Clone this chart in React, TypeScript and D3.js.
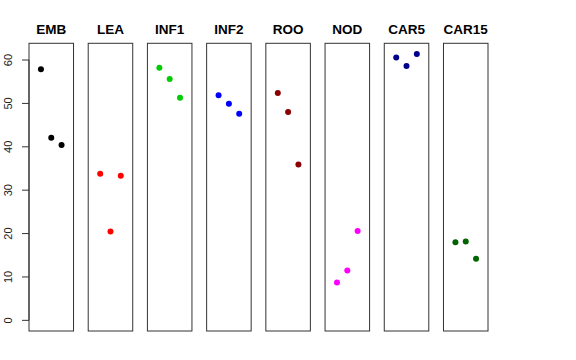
import * as d3 from "d3";

const categories = ["EMB", "LEA", "INF1", "INF2", "ROO", "NOD", "CAR5", "CAR15"];
const colors = ["#000000", "#FF0000", "#00CD00", "#0000FF", "#8B0000", "#FF00FF", "#00008B", "#006400"];
const rep1 = [57.9, 33.8, 58.2, 51.9, 52.4, 8.7, 60.6, 18.0];
const rep2 = [42.1, 20.5, 55.6, 49.9, 48.0, 11.5, 58.6, 18.2];
const rep3 = [40.4, 33.3, 51.3, 47.6, 35.9, 20.6, 61.4, 14.2];
const yTicks = [0, 10, 20, 30, 40, 50, 60];

export default function App() {
  const width = 576;
  const height = 360;
  const left = 29;
  const right = 488;
  const top = 43.3;
  const bottom = 331;

  const xBand = d3.scaleBand().domain(categories).range([left, right]).paddingInner(0.248).paddingOuter(0);

  const yMax = 61.4;
  const yScale = d3
    .scaleLinear()
    .domain([-0.04 * yMax, yMax * 1.04])
    .range([bottom, top]);

  const inner = d3.scaleLinear().domain([-0.16, 4.16]).range([0, xBand.bandwidth()]);

  const reps = [rep1, rep2, rep3];

  return (
    <svg width={width} height={height} style={{ position: "absolute", left: 0, top: 0 }}>
      <rect width={width} height={height} fill="white" />
      {categories.map((c, i) => {
        const x0 = xBand(c)!;
        return (
          <g key={c}>
            <text
              x={x0 + xBand.bandwidth() / 2}
              y={34}
              textAnchor="middle"
              fontFamily="Liberation Sans, Arial, sans-serif"
              fontWeight="bold"
              fontSize={13.5}
            >
              {c}
            </text>
            {reps.map((r, j) => (
              <circle key={j} cx={x0 + inner(j + 1)} cy={yScale(r[i])} r={3} fill={colors[i]} />
            ))}
            <rect
              x={x0}
              y={top}
              width={xBand.bandwidth()}
              height={bottom - top}
              fill="none"
              stroke="#333"
              strokeWidth={1}
            />
          </g>
        );
      })}

      {/* Y axis */}
      <line x1={left} x2={left} y1={yScale(0)} y2={yScale(60)} stroke="#333" />
      {yTicks.map((t) => (
        <g key={t} transform={`translate(${left}, ${yScale(t)})`}>
          <line x2={-7} stroke="#333" />
          <text
            transform="translate(-17, 0) rotate(-90)"
            textAnchor="middle"
            fontFamily="Liberation Sans, Arial, sans-serif"
            fontSize={11}
            fill="#222"
          >
            {t}
          </text>
        </g>
      ))}
    </svg>
  );
}
